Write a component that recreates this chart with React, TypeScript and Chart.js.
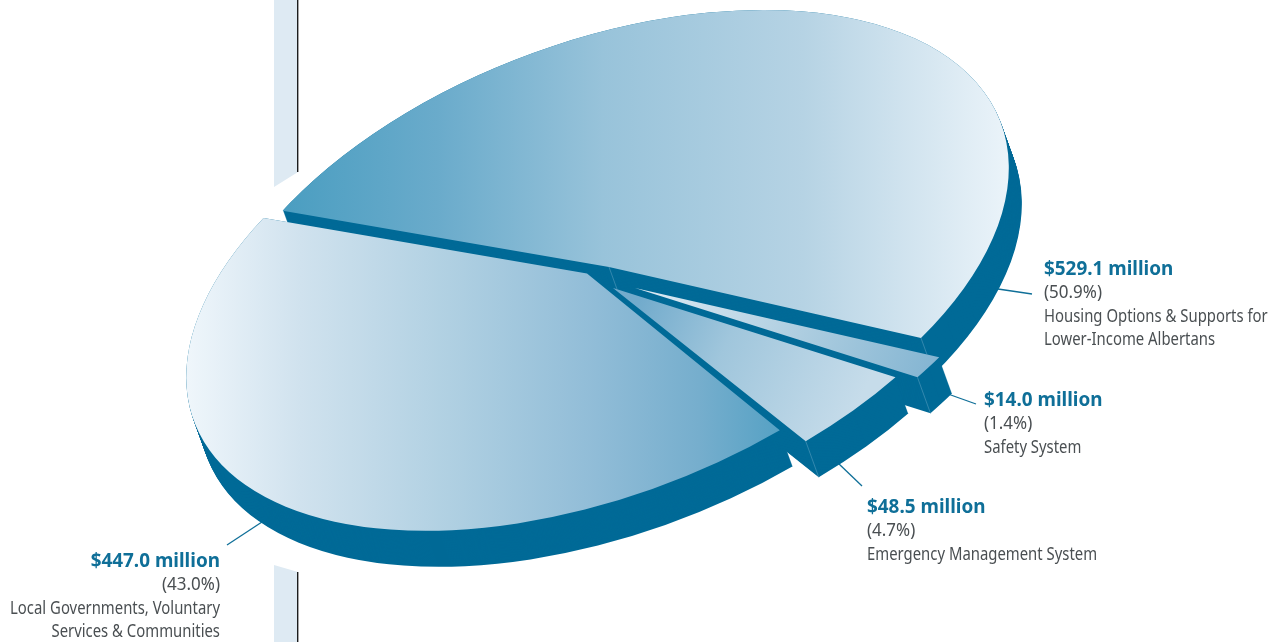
import React, { useEffect, useRef } from "react";
import { Chart, registerables } from "chart.js";

Chart.register(...registerables);

const categories = [
  "Housing Options & Supports for Lower-Income Albertans",
  "Local Governments, Voluntary Services & Communities",
  "Emergency Management System",
  "Safety System",
];
const amounts = [529.1, 447.0, 48.5, 14.0];
const amountLabels = ["$529.1 million", "$447.0 million", "$48.5 million", "$14.0 million"];
const shareLabels = ["(50.9%)", "(43.0%)", "(4.7%)", "(1.4%)"];
const nameLines = [
  ["Housing Options & Supports for", "Lower-Income Albertans"],
  ["Local Governments, Voluntary", "Services & Communities"],
  ["Emergency Management System"],
  ["Safety System"],
];

const W = 1286;
const H = 642;
const R = 200;
const PIE = { x: 588, y: 273 };
const U = { x: 312, y: 71 };
const V = { x: 250, y: -247 };
const DEPTH = { x: 13, y: 36 };
const DARK = "#006a97";
const SEAM = "#3f8fb4";
const TITLE = "#0f6f98";
const BODY = "#4a4f52";

const explode = [
  { x: 21, y: -6, s: 1, v: V },
  { x: -1, y: 0.5, s: 0.99, v: { x: 258, y: -250 } },
  { x: 25, y: 15, s: 0.975, v: V },
  { x: 47, y: 15, s: 0.975, v: V },
];
const drawOrder = [0, 1, 3, 2];

const fills = [
  { from: [287, 0], to: [1005, 0], stops: [[0, "#4b9ec1"], [0.21, "#6aabcb"], [0.44, "#98c3da"], [0.72, "#b6d3e4"], [1, "#eaf3f9"]] },
  { from: [187, 0], to: [782, 0], stops: [[0, "#eff6fb"], [0.19, "#d0e2ee"], [0.44, "#b0d0e2"], [0.69, "#90bcd7"], [0.86, "#76aecd"], [1, "#55a1c4"]] },
  { from: [640, 300], to: [860, 400], stops: [[0, "#72abcc"], [0.4, "#a0c6dc"], [1, "#c6dcea"]] },
  { from: [660, 270], to: [930, 380], stops: [[0, "#dbe9f3"], [0.5, "#b0cfe1"], [1, "#84b5d2"]] },
];

const labelBoxes = [
  { x: 1044, y: 274, align: "left" as CanvasTextAlign },
  { x: 220, y: 566, align: "right" as CanvasTextAlign },
  { x: 867, y: 512, align: "left" as CanvasTextAlign },
  { x: 984, y: 405, align: "left" as CanvasTextAlign },
];
const leaders = [
  [998, 289, 1032, 294],
  [265, 520, 227, 545],
  [838, 463, 862, 486],
  [948, 394, 976, 404],
];

function matrix(i: number, cx: number, cy: number) {
  const e = explode[i];
  const a = (U.x / R) * e.s;
  const b = (U.y / R) * e.s;
  const c = (e.v.x / R) * e.s;
  const d = (e.v.y / R) * e.s;
  return { a, b, c, d, e: PIE.x + e.x - a * cx - c * cy, f: PIE.y + e.y - b * cx - d * cy };
}

function gradientFor(ctx: CanvasRenderingContext2D, i: number, cx: number, cy: number) {
  const m = matrix(i, cx, cy);
  const spec = fills[i];
  const wx = spec.to[0] - spec.from[0];
  const wy = spec.to[1] - spec.from[1];
  const ww = wx * wx + wy * wy;
  const gx = (m.a * wx + m.b * wy) / ww;
  const gy = (m.c * wx + m.d * wy) / ww;
  const sx = m.a * cx + m.c * cy + m.e;
  const sy = m.b * cx + m.d * cy + m.f;
  const f0 = ((sx - spec.from[0]) * wx + (sy - spec.from[1]) * wy) / ww;
  const gg = gx * gx + gy * gy;
  const g = ctx.createLinearGradient(
    cx + (gx * (0 - f0)) / gg,
    cy + (gy * (0 - f0)) / gg,
    cx + (gx * (1 - f0)) / gg,
    cy + (gy * (1 - f0)) / gg
  );
  spec.stops.forEach(([o, col]) => g.addColorStop(o as number, col as string));
  return g;
}

const piePlugin = {
  id: "tiltedPie",
  beforeDraw(chart: any) {
    const ctx: CanvasRenderingContext2D = chart.ctx;
    ctx.save();
    ctx.fillStyle = "#deeaf3";
    ctx.beginPath();
    ctx.moveTo(274, 0);
    ctx.lineTo(298, 0);
    ctx.lineTo(298, 172);
    ctx.lineTo(274, 187);
    ctx.closePath();
    ctx.moveTo(274, 565);
    ctx.lineTo(298, 572);
    ctx.lineTo(298, 642);
    ctx.lineTo(274, 642);
    ctx.closePath();
    ctx.fill();
    ctx.fillStyle = "#1c1c1c";
    ctx.fillRect(297, 0, 1.4, 172);
    ctx.fillRect(297, 572, 1.4, 70);
    ctx.strokeStyle = TITLE;
    ctx.lineWidth = 1.3;
    leaders.forEach(([x0, y0, x1, y1]) => {
      ctx.beginPath();
      ctx.moveTo(x0, y0);
      ctx.lineTo(x1, y1);
      ctx.stroke();
    });
    ctx.restore();
  },
  beforeDatasetDraw(chart: any) {
    const ctx: CanvasRenderingContext2D = chart.ctx;
    const arcs = chart.getDatasetMeta(0).data;
    drawOrder.forEach((i) => {
      const el = arcs[i];
      const m = matrix(i, el.x, el.y);
      const full = el.options;
      el.options = { backgroundColor: DARK, borderWidth: 0, borderColor: DARK, offset: 0, spacing: 0, circular: true, borderAlign: "center" };
      for (let k = 36; k >= 0; k -= 1) {
        ctx.save();
        ctx.translate((DEPTH.x * k) / 36, (DEPTH.y * k) / 36);
        ctx.transform(m.a, m.b, m.c, m.d, m.e, m.f);
        el.draw(ctx);
        ctx.restore();
      }
      el.options = full;
      const seamAt = (x: number, y: number) => {
        const sx = m.a * x + m.c * y + m.e;
        const sy = m.b * x + m.d * y + m.f;
        ctx.save();
        ctx.strokeStyle = SEAM;
        ctx.lineWidth = 0.8;
        ctx.beginPath();
        ctx.moveTo(sx, sy);
        ctx.lineTo(sx + DEPTH.x, sy + DEPTH.y);
        ctx.stroke();
        ctx.restore();
      };
      if (i !== 1) {
        const t = el.startAngle;
        seamAt(el.x + Math.cos(t) * el.outerRadius, el.y + Math.sin(t) * el.outerRadius);
      }
      if (i === 0) seamAt(el.x, el.y);
    });
    drawOrder.forEach((i) => {
      const el = arcs[i];
      const m = matrix(i, el.x, el.y);
      ctx.save();
      ctx.transform(m.a, m.b, m.c, m.d, m.e, m.f);
      el.draw(ctx);
      ctx.restore();
    });
    return false;
  },
  afterDraw(chart: any) {
    const ctx: CanvasRenderingContext2D = chart.ctx;
    const text = (s: string, x: number, y: number, font: string, color: string, align: CanvasTextAlign, sx: number) => {
      ctx.save();
      ctx.translate(x, y);
      ctx.scale(sx, 1);
      ctx.font = font;
      ctx.fillStyle = color;
      ctx.textAlign = align;
      ctx.textBaseline = "alphabetic";
      ctx.fillText(s, 0, 0);
      ctx.restore();
    };
    amountLabels.forEach((label, i) => {
      const b = labelBoxes[i];
      text(label, b.x, b.y + 1, "bold 20px 'Noto Sans'", TITLE, b.align, 0.945);
      text(shareLabels[i], b.x, b.y + 24, "17.5px 'Noto Sans'", BODY, b.align, 0.97);
      nameLines[i].forEach((line, j) => {
        text(line, b.x, b.y + 48 + 24 * j - j, "17.5px 'Noto Sans'", BODY, b.align, 0.85);
      });
    });
  },
};

export default function App() {
  const ref = useRef<HTMLCanvasElement>(null);
  useEffect(() => {
    const chart = new Chart(ref.current as HTMLCanvasElement, {
      type: "pie",
      data: {
        labels: categories,
        datasets: [
          {
            data: amounts,
            borderWidth: 0,
            radius: R,
            rotation: 90,
            backgroundColor: (c: any) => {
              if (c.dataIndex === undefined) return DARK;
              return gradientFor(c.chart.ctx, c.dataIndex, W / 2, H / 2);
            },
          },
        ],
      },
      options: {
        responsive: false,
        animation: false,
        events: [],
        layout: { padding: 0 },
        plugins: { legend: { display: false }, tooltip: { enabled: false }, title: { display: false } },
      },
      plugins: [piePlugin],
    } as any);
    return () => chart.destroy();
  }, []);
  return (
    <div style={{ position: "absolute", left: 0, top: 0, width: W, height: H }}>
      <canvas ref={ref} width={W} height={H} style={{ display: "block" }} />
    </div>
  );
}
